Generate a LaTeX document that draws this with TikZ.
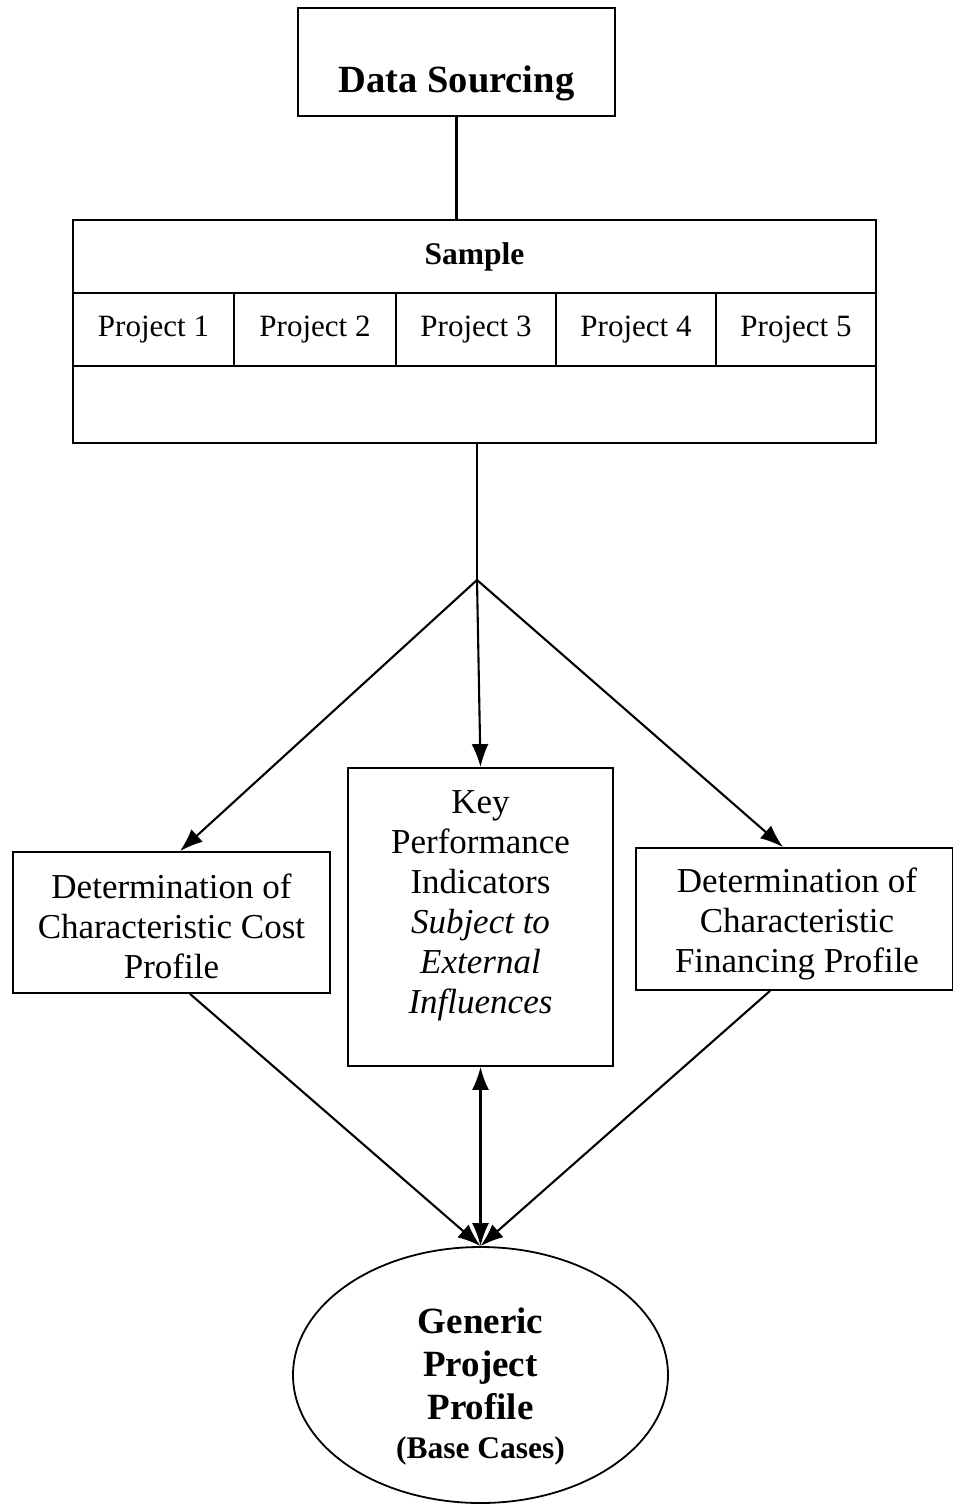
\documentclass[tikz,border=0pt]{standalone}
\usepackage{fontspec}
\setmainfont{Liberation Serif}
\usetikzlibrary{arrows.meta,shapes.geometric,calc}
\begin{document}
\begin{tikzpicture}[x=1pt,y=-1pt,
  every node/.style={font=\fontsize{35}{40}\selectfont},
  box/.style={draw, rectangle, inner sep=0pt, line width=1.8pt},
  cell/.style={box, minimum height=73pt, font=\fontsize{31}{38}\selectfont},
  conn/.style={line width=2.1pt},
  tip/.tip={Latex[length=23pt,width=17pt]},
  arr/.style={conn, -tip},
]
\useasboundingbox (0,0) rectangle (953,1505);

\node[box, minimum width=317pt, minimum height=108pt,
      font=\bfseries\fontsize{38.5}{44}\selectfont,
      text height=60pt, text depth=0pt] (ds) at (456.5,62) {Data Sourcing};

\node[box, minimum width=803pt, minimum height=223pt] (sample) at (474.5,331.5) {};
\node[box, minimum width=803pt, minimum height=73pt,
      font=\bfseries\fontsize{31.5}{36}\selectfont] (title) at (474.5,256.5) {Sample};
\node[cell, minimum width=161pt] (p1) at (153.5,329.5) {Project 1};
\node[cell, minimum width=162pt] (p2) at (315,329.5) {Project 2};
\node[cell, minimum width=160pt] (p3) at (476,329.5) {Project 3};
\node[cell, minimum width=160pt] (p4) at (636,329.5) {Project 4};
\node[cell, minimum width=160pt] (p5) at (796,329.5) {Project 5};

\coordinate (j) at (477,580);

\node[box, minimum width=317pt, minimum height=141pt] (L) at (171.5,922.5) {};
\node[align=center] (Ltext) at (171.5,926)
  {Determination of\\Characteristic Cost\\Profile};
\node[box, minimum width=265pt, minimum height=298pt] (K) at (480.5,917) {};
\node[align=center] (Ktext) at (480.5,906)
  {Key\\Performance\\Indicators\\\textit{Subject to}\\\textit{External}\\\textit{Influences}};
\node[box, minimum width=317pt, minimum height=142pt] (R) at (794.5,919) {};
\node[align=center] (Rtext) at (797,924)
  {Determination of\\Characteristic\\Financing Profile};

\node[draw, ellipse, line width=1.8pt, minimum width=375pt, minimum height=256pt, inner sep=0pt] (E) at (480.5,1375) {};
\node[align=center, font=\bfseries\fontsize{37}{43}\selectfont] (Etext) at (480.5,1386)
  {Generic\\Project\\Profile\\[-4pt]{\fontsize{31.5}{36}\selectfont (Base Cases)}};

\draw[conn] (ds.south) -- (ds.south |- sample.north);
\draw[conn] (sample.south -| j) -- (j);
\draw[arr] (j) -- ($(L.north)+(8.5,0)$);
\draw[arr] (j) -- (K.north);
\draw[arr] (j) -- ($(R.north)+(-11.5,0)$);
\draw[arr] ($(L.south)+(18.5,0)$) -- (E.north);
\draw[arr] ($(R.south)+(-24.5,0)$) -- (E.north);
\draw[conn, tip-tip] (K.south) -- (E.north);
\end{tikzpicture}
\end{document}
